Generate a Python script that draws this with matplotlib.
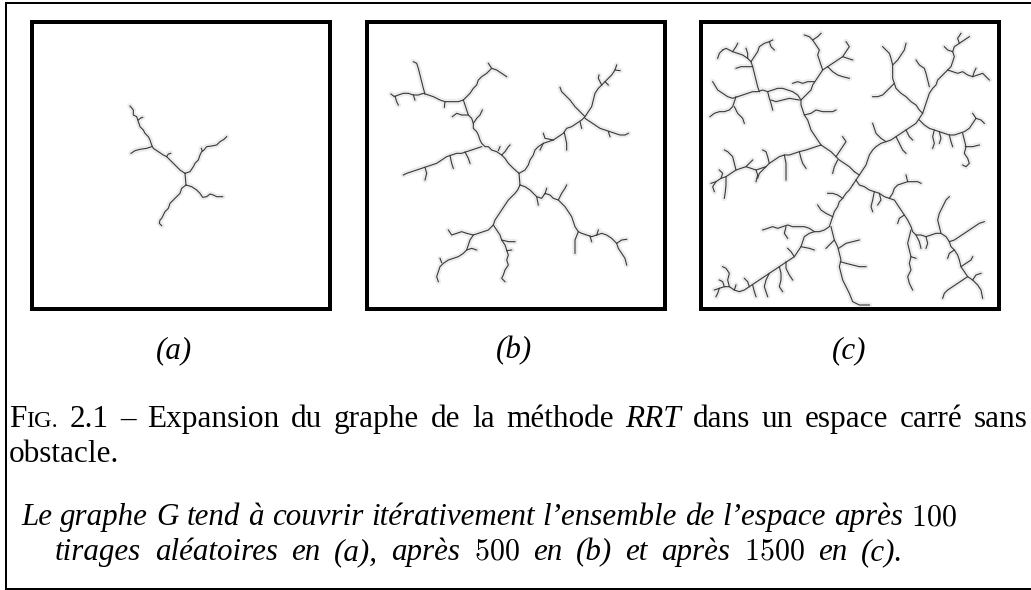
import matplotlib
matplotlib.use('Agg')
import matplotlib.pyplot as plt

# ---------------- data (tree node coordinates) ----------------
TREE_A = [
    [(555,520),(540,510),(525,495),(510,480),(500,470),(490,465),(475,455),(460,445),(455,435),(450,420),(445,410),(435,400),(430,390),(420,380),(415,365),(410,350),(400,345),(400,330),(390,318)],
    [(455,440),(440,445),(420,448),(405,452),(393,460)],
    [(500,470),(505,462),(512,460)],
    [(415,360),(422,354),(428,352)],
    [(555,520),(570,515),(580,500),(585,490),(595,480),(600,465),(605,455),(612,450),(620,440),(635,438),(650,435),(660,425),(672,418),(680,410)],
    [(607,453),(604,445)],
    [(555,520),(558,555)],
    [(558,555),(545,565),(540,580),(530,590),(520,600),(510,610),(505,625),(495,635),(490,645),(485,655),(480,660),(478,670),(485,677)],
    [(558,555),(575,560),(590,570),(600,580),(608,592),(620,590),(630,582),(640,585),(650,590),(668,590)],
]

TREE_B = [
    [(522,520),(505,505),(490,490),(480,475),(470,465),(455,455),(440,450),(430,440),(420,440),(410,430),(405,420),(400,405),(395,395),(385,385),(385,370),(380,355),(370,345),(365,330),(360,315),(355,300),(340,305),(320,305),(300,305),(285,300),(265,290),(250,285),(235,280),(220,285),(205,285),(190,280),(175,280),(160,285),(148,290),(138,282)],
    [(240,282),(235,265),(230,245),(225,225),(220,205),(215,190),(205,185)],
    [(355,300),(365,290),(375,280),(385,265),(395,255),(400,240),(410,230),(425,220),(440,205),(455,210),(470,220),(485,230)],
    [(440,205),(430,190)],
    [(385,370),(395,355),(405,345),(412,330)],
    [(370,345),(350,345),(335,340),(322,350)],
    [(410,440),(395,445),(380,450),(365,455),(350,460),(335,460),(320,465),(305,470),(290,480),(275,490),(260,495),(245,500),(230,505),(215,510),(200,515),(185,520),(175,525)],
    [(240,502),(245,520),(240,540)],
    [(315,466),(320,490),(325,505)],
    [(360,456),(370,475),(375,490)],
    [(470,465),(480,455),(490,440),(495,435)],
    [(522,520),(540,510),(550,495),(555,480),(565,465),(570,450),(580,440),(595,430),(610,425),(625,420),(640,410),(655,400),(665,385),(680,380),(695,370),(710,360),(720,350),(730,335),(740,320),(745,300),(750,280),(760,265),(770,255),(780,245),(790,235),(800,225),(810,210),(815,195)],
    [(720,350),(705,335),(690,320),(675,300),(665,290),(650,275),(645,262)],
    [(720,355),(735,365),(750,375),(765,385),(780,390),(795,395),(810,400),(825,405),(840,405),(850,400)],
    [(625,420),(600,415),(595,400)],
    [(658,398),(665,430),(665,450)],
    [(770,255),(760,235),(762,225)],
    [(522,520),(525,555)],
    [(525,555),(540,560),(555,570),(565,580),(575,590),(590,595),(600,580),(615,585),(625,595),(640,600),(650,610),(660,620),(670,635),(680,650),(685,665),(690,680),(700,695),(710,700),(725,705),(740,710),(755,705),(770,700),(785,705),(800,715),(815,730),(820,745),(830,760),(840,775),(845,795)],
    [(640,600),(650,580),(660,565),(665,555)],
    [(575,590),(580,615)],
    [(700,695),(690,720),(690,760)],
    [(815,730),(830,720),(845,718)],
    [(735,708),(740,725)],
    [(525,555),(518,570),(510,580),(500,590),(490,600),(480,615),(470,630),(460,645),(450,660),(445,675),(430,690),(415,695),(400,700),(385,705),(375,720),(370,735),(365,750),(355,760),(340,770),(325,775),(310,780),(295,790),(285,800),(280,815),(275,830),(280,845)],
    [(445,675),(455,690),(465,705),(470,720),(480,735),(485,750),(490,765),(485,780),(490,795),(480,810),(475,825),(470,835),(480,845)],
    [(385,705),(365,700),(350,695),(335,700),(320,705),(310,690)],
    [(470,720),(490,725),(510,725)],
    [(365,750),(380,745),(395,750)],
    # short twigs
    [(150,288),(155,305),(160,315)],
    [(300,305),(298,322)],
    [(205,285),(210,300)],
    [(460,452),(465,440)],
    [(595,430),(585,450)],
    [(705,365),(710,385)],
    [(790,395),(795,410)],
    [(780,245),(790,255)],
    [(810,210),(825,212)],
    [(600,582),(605,565)],
    [(755,706),(760,690)],
    [(290,788),(285,775)],
    [(485,752),(500,750)],
]

TREE_C = [
    [(505,515),(520,525),(510,540),(500,555)],
    [(505,515),(490,500),(475,490),(460,480),(450,470),(435,455),(420,445),(405,435),(395,420),(385,405),(375,390),(370,375),(365,360),(355,345),(350,330),(345,315),(345,300),(335,285),(320,275),(305,270),(290,265),(275,265),(260,270),(245,275),(230,270),(215,275),(200,275),(185,280),(170,285),(155,290),(140,295),(125,290),(110,280),(95,270),(80,245)],
    [(220,275),(215,260),(210,240),(205,220),(200,200),(195,185),(185,175),(170,165),(155,160),(140,155),(120,145),(110,150)],
    [(195,185),(205,170),(215,155),(220,140),(235,130),(250,125),(260,120)],
    [(200,200),(165,200),(150,205)],
    [(150,290),(145,305),(140,320),(130,330),(115,335),(100,335),(85,340),(72,350)],
    [(145,320),(155,340),(170,355),(175,370)],
    [(345,300),(360,285),(375,270),(380,255),(390,240),(400,225),(410,210),(405,195),(400,180),(395,165),(400,150),(390,135),(380,120),(370,110),(355,105)],
    [(410,210),(425,200),(440,190),(455,180),(470,170),(480,155),(490,140),(480,125)],
    [(425,200),(440,215),(455,225),(470,230),(490,235)],
    [(385,245),(365,245),(350,250),(335,245),(320,250)],
    [(355,345),(375,340),(390,330),(410,335),(425,335),(440,335),(450,330)],
    [(340,300),(310,295),(290,300),(270,305),(255,300)],
    [(245,275),(250,295),(255,310),(260,330)],
    [(405,435),(390,440),(375,445),(360,450),(340,455),(325,460),(310,465),(295,465),(280,470),(265,480),(250,490),(240,500),(225,505),(210,510),(195,505),(180,500),(165,505),(150,510),(135,520),(120,530),(105,535),(90,545),(75,550)],
    [(295,465),(300,490),(300,515),(300,540)],
    [(340,455),(345,475),(350,490),(360,505)],
    [(250,490),(245,470),(240,455),(230,450)],
    [(240,500),(220,520),(215,535)],
    [(150,510),(145,490),(140,470),(125,455),(115,450)],
    [(120,530),(120,555),(118,575),(115,595)],
    [(180,500),(190,490),(200,480)],
    [(450,470),(460,455),(470,440),(480,425),(470,410)],
    [(455,480),(445,500),(440,520)],
    [(520,525),(530,510),(540,495),(545,480),(550,465),(560,450),(570,440),(585,430),(600,425),(615,420),(630,410),(645,400),(660,390),(675,380),(690,370),(700,355),(710,340),(715,325),(720,310),(725,295),(730,280),(740,265),(750,255),(755,240),(765,230),(775,220),(785,210),(795,200),(800,185),(805,170),(800,155),(805,140),(820,130),(835,120),(850,110)],
    [(710,340),(700,330),(690,315),(675,305),(660,290),(645,280),(630,265),(625,250),(620,235),(620,215),(620,195),(615,175),(610,160),(600,150),(590,140)],
    [(625,250),(610,265),(600,275),(590,285),(575,290),(560,290)],
    [(620,195),(635,180),(645,165),(655,150),(660,130)],
    [(730,260),(725,240),(720,220),(715,205),(700,195),(690,180)],
    [(785,210),(800,215),(815,220),(830,215),(845,225),(860,230),(875,225),(890,220),(900,230),(910,240)],
    [(700,360),(715,375),(730,385),(745,390),(760,395),(775,400),(790,405),(805,405),(820,400),(835,395),(850,385),(860,370),(870,355),(860,340)],
    [(830,400),(835,420),(840,440),(835,460),(845,475),(850,490),(840,500),(830,495)],
    [(745,390),(740,410),(745,430),(740,445)],
    [(660,390),(670,410),(680,420)],
    [(600,425),(585,415),(570,400),(565,385),(560,370)],
    [(630,410),(640,430),(650,450),(660,460)],
    [(838,440),(860,440),(880,435)],
    [(510,540),(520,555),(535,560),(550,570),(565,575),(580,580),(595,590),(610,595),(625,600),(635,615),(645,630),(655,645),(665,660),(675,680),(680,695),(690,705),(705,705),(720,710),(735,705),(750,700),(765,700),(780,710),(790,725),(795,740),(805,750),(815,765),(820,780),(825,800),(835,815),(845,830),(860,840),(875,855),(885,870),(890,895)],
    [(675,690),(670,710),(665,730),(670,750),(675,770),(670,790),(675,810),(665,830),(670,850),(680,870)],
    [(765,700),(760,680),(755,660),(760,640),(770,620),(780,600),(790,590)],
    [(790,725),(805,720),(820,710),(835,700),(850,690),(865,680),(880,670),(895,665)],
    [(845,830),(830,840),(815,850),(800,860),(785,870),(775,880),(770,895)],
    [(610,595),(620,580),(625,565),(635,555),(650,550),(665,545),(680,545),(695,545),(705,550)],
    [(565,575),(560,600),(555,620),(560,635)],
    [(825,800),(840,790),(855,780),(860,770)],
    [(690,705),(700,725),(705,745)],
    [(500,555),(490,570),(480,580),(470,595),(460,605),(455,620),(445,635),(440,650),(435,665),(430,680),(415,690),(400,695),(385,695),(370,700),(355,710),(350,725),(345,740),(335,755),(325,770),(310,780),(295,790),(280,800),(265,810),(250,820),(235,830),(220,840),(205,850),(190,860),(175,870),(160,875),(145,870),(130,860),(115,860),(100,865),(85,870)],
    [(435,680),(440,700),(445,720),(455,740),(460,760),(465,780),(460,800),(465,820),(470,840),(480,860),(490,880),(500,905),(520,915),(550,915)],
    [(458,745),(480,730),(500,725),(520,720)],
    [(463,785),(480,790),(500,795),(520,800),(540,800)],
    [(385,695),(370,685),(355,680),(340,680),(320,680),(305,675),(290,680),(275,685),(260,680),(245,685),(230,690)],
    [(345,740),(370,745),(385,750)],
    [(250,820),(240,840),(235,860),(240,875),(245,890)],
    [(130,860),(125,840),(130,820),(120,805),(110,800)],
    [(440,650),(420,640),(405,630),(395,615)],
    [(470,595),(455,585),(440,580),(425,580)],
    [(445,720),(430,735),(420,745)],
    [(300,785),(300,805),(310,825),(320,840)],
    [(200,855),(205,875),(210,890)],
    [(100,865),(95,880),(90,890)],
    [(280,800),(285,820),(285,840),(280,860),(290,875)],
    # short twigs
    [(110,150),(100,160),(95,175)],
    [(140,155),(150,140),(155,130)],
    [(185,175),(185,160),(180,145)],
    [(250,125),(255,140),(265,150)],
    [(90,545),(80,560),(85,575)],
    [(105,535),(110,520),(100,510)],
    [(210,510),(215,525),(210,545)],
    [(380,120),(395,110),(405,100)],
    [(470,170),(485,175),(500,180)],
    [(800,155),(785,150),(775,140)],
    [(820,130),(815,115),(825,100)],
    [(860,230),(865,215),(870,205)],
    [(870,355),(885,360),(895,370)],
    [(760,395),(765,415),(760,430)],
    [(790,405),(795,425),(800,440)],
    [(665,545),(660,525)],
    [(580,580),(585,600),(575,615)],
    [(655,645),(640,655),(635,670)],
    [(720,710),(725,730),(720,745)],
    [(805,750),(790,760),(785,775)],
    [(860,840),(870,825),(885,820)],
    [(675,770),(690,775)],
    [(300,680),(295,700),(305,715)],
    [(325,770),(315,755),(305,745)],
    [(190,860),(185,845),(175,835)],
    [(145,870),(150,855)],
    [(115,860),(110,845),(100,840)],
]

PANEL_LABELS = ['(a)', '(b)', '(c)']
CAPTION_1 = ['2.1', '–', 'Expansion', 'du', 'graphe', 'de', 'la', 'méthode']
CAPTION_1B = ['dans', 'un', 'espace', 'carré', 'sans']
CAPTION_2 = 'obstacle.'
NOTE_1 = ['Le', 'graphe', 'G', 'tend', 'à', 'couvrir', 'itérativement', 'l’ensemble', 'de', 'l’espace', 'après']
NOTE_COUNTS = ['100', '500', '1500']

# ---------------- figure ----------------
W, H = 1031, 590
fig = plt.figure(figsize=(W / 100, H / 100), dpi=100)
bg = fig.add_axes([0, 0, 1, 1])
bg.set_xlim(0, W)
bg.set_ylim(H, 0)
bg.axis('off')

PX = 0.72  # points per pixel at 100 dpi

# outer frame (right side is cut off in the reference)
bg.plot([6, 6], [3, 588.5], color='black', lw=2 * PX, solid_capstyle='projecting')
bg.plot([6, W], [3, 3], color='black', lw=2 * PX, solid_capstyle='projecting')
bg.plot([6, W], [588.5, 588.5], color='black', lw=3 * PX, solid_capstyle='projecting')

panels = [
    (32, 330, (96, 990), TREE_A),
    (367, 665, (66, 960), TREE_B),
    (701, 999, (45, 939), TREE_C),
]
TOP, BOT = 22, 309
for left, right, xl, tree in panels:
    ax = fig.add_axes([left / W, 1 - BOT / H, (right - left) / W, (BOT - TOP) / H])
    ax.set_xlim(*xl)
    ax.set_ylim(927, 66)
    ax.set_xticks([])
    ax.set_yticks([])
    for s in ax.spines.values():
        s.set_linewidth(4 * PX)
        s.set_color('black')
    for br in tree:
        xs, ys = zip(*br)
        ax.plot(xs, ys, color='#ececec', lw=4.0, solid_capstyle='round',
                solid_joinstyle='round', zorder=1)
    for br in tree:
        xs, ys = zip(*br)
        ax.plot(xs, ys, color='#383838', lw=0.8, solid_joinstyle='round', zorder=2)

# ---------------- text ----------------
FS = 22.5
FSI = 22.3
R = dict(family='Liberation Serif', fontsize=FS, color='black')
RS = dict(family='Liberation Serif', fontsize=FS * 0.78, color='black')
RI = dict(family='Liberation Serif', fontsize=FS, color='black', style='italic')
I = dict(family='Liberation Serif', fontsize=FSI, color='black', style='italic')
M = dict(fontsize=FSI * 0.97, color='black', math_fontfamily='cm')

renderer = fig.canvas.get_renderer()


def run_width(s, p):
    t = bg.text(0, 0, s, **p)
    w = t.get_window_extent(renderer).width
    t.remove()
    return w


def place_line(words, y, x0, x1):
    widths = [sum(run_width(s, p) for s, p in w) for w in words]
    gap = (x1 - x0 - sum(widths)) / (len(words) - 1)
    x = x0
    for w, wd in zip(words, widths):
        xx = x
        for s, p in w:
            bg.text(xx, y, s, va='baseline', ha='left', **p)
            xx += run_width(s, p)
        x += wd + gap


for lab, cx in zip(PANEL_LABELS, [174, 514, 849]):
    bg.text(cx, 358, lab, ha='center', va='baseline', **I)

line1 = [[('F', R), ('IG.', RS)]] + [[(w, R)] for w in CAPTION_1] + [[('RRT', RI)]] + \
        [[(w, R)] for w in CAPTION_1B]
place_line(line1, 427, 9, 1028)
bg.text(9, 462, CAPTION_2, ha='left', va='baseline', **R)

line3 = [[(w, I)] for w in NOTE_1] + [[('$' + NOTE_COUNTS[0] + '$', M)]]
place_line(line3, 525, 21, 957)

line4 = [[(w, I)] for w in ['tirages', 'aléatoires', 'en', '(a),', 'après']] + \
        [[('$' + NOTE_COUNTS[1] + '$', M)]] + \
        [[(w, I)] for w in ['en', '(b)', 'et', 'après']] + \
        [[('$' + NOTE_COUNTS[2] + '$', M)]] + \
        [[(w, I)] for w in ['en', '(c).']]
place_line(line4, 560, 55, 903)

fig.savefig('out.png', dpi=100)
